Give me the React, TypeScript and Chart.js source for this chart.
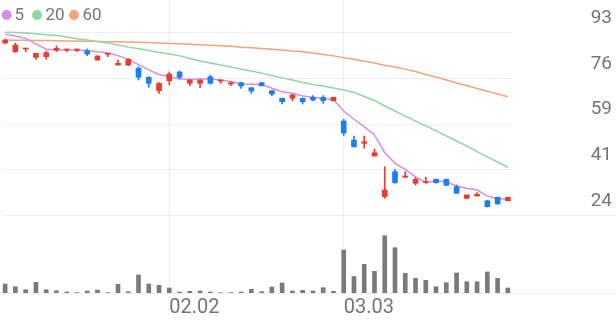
import React, { useEffect, useRef } from "react";
import { Chart, registerables } from "chart.js";

Chart.register(...registerables);

// ---- data ----
const dates = [
  "01.09","01.12","01.13","01.14","01.15","01.16","01.19","01.20","01.21","01.22",
  "01.23","01.26","01.27","01.28","01.29","01.30","02.02","02.03","02.04","02.05",
  "02.06","02.09","02.10","02.11","02.12","02.13","02.19","02.20","02.23","02.24",
  "02.25","02.26","02.27","03.03","03.04","03.05","03.06","03.09","03.10","03.11",
  "03.12","03.13","03.16","03.17","03.18","03.19","03.20","03.23","03.24","03.25",
];

const openP = [
  88.85, 85.57, 86.59, 83.46, 83.70, 86.20, 86.20, 86.20, 85.95, 82.44,
  84.59, 80.56, 80.56, 79.31, 75.92, 70.87, 74.64, 77.92, 73.66, 73.66,
  76.15, 74.52, 73.39, 73.88, 72.00, 73.88, 70.87, 68.00, 68.00, 68.00,
  68.38, 68.38, 67.10, 59.44, 52.28, 51.03, 46.25, 30.90, 40.33, 38.22,
  35.95, 36.18, 37.46, 37.46, 34.67, 30.30, 31.17, 29.39, 30.67, 29.39,
];
const highP = [
  90.36, 88.85, 86.86, 85.10, 85.84, 87.72, 86.59, 86.59, 86.59, 84.10,
  84.97, 82.44, 83.00, 79.92, 76.20, 73.90, 77.92, 78.30, 75.00, 75.00,
  76.79, 74.90, 74.26, 74.00, 72.10, 74.00, 71.00, 68.10, 69.60, 68.10,
  69.00, 69.00, 68.40, 60.08, 53.79, 53.79, 48.88, 42.21, 41.23, 40.33,
  38.22, 38.22, 37.60, 37.60, 35.31, 31.60, 32.41, 29.50, 30.80, 30.80,
];
const lowP = [
  88.50, 85.30, 85.57, 82.70, 82.80, 85.57, 85.57, 85.57, 84.06, 82.30,
  83.69, 80.50, 80.30, 74.90, 72.15, 69.89, 73.02, 75.28, 72.75, 72.00,
  73.28, 73.66, 72.75, 71.77, 69.89, 72.60, 68.87, 65.85, 67.10, 65.85,
  67.10, 66.10, 67.00, 53.97, 49.60, 49.15, 46.20, 30.30, 35.95, 38.20,
  35.31, 35.95, 36.00, 35.00, 32.18, 30.20, 31.10, 27.00, 28.00, 29.30,
];
const closeP = [
  89.98, 88.10, 86.86, 84.97, 85.20, 86.86, 86.59, 86.59, 84.70, 83.95,
  84.97, 81.20, 82.71, 75.92, 73.66, 73.66, 77.17, 75.92, 74.90, 74.90,
  73.66, 74.90, 73.88, 72.64, 70.75, 72.75, 69.62, 66.72, 69.25, 66.72,
  67.36, 67.10, 68.38, 54.92, 49.75, 51.64, 47.49, 33.42, 36.18, 38.71,
  37.46, 36.55, 36.18, 35.20, 32.18, 31.54, 31.80, 27.13, 28.15, 30.67,
];

const ma5 = [
  92.2, 91.5, 90.6, 88.5, 86.5, 86.2, 86.2, 86.1, 86.0, 85.6,
  85.2, 84.1, 82.7, 80.7, 78.7, 77.0, 76.1, 75.3, 75.2, 75.3,
  75.3, 74.9, 74.3, 73.4, 73.3, 73.2, 71.8, 70.5, 69.9, 68.9,
  68.4, 67.9, 67.5, 63.2, 60.1, 57.3, 54.2, 47.5, 43.5, 41.2,
  38.4, 36.3, 36.8, 36.6, 34.9, 34.1, 33.4, 31.2, 30.0, 30.0,
];
const ma20 = [
  92.9, 92.8, 92.6, 92.3, 92.0, 91.7, 91.1, 90.5, 90.0, 89.4,
  88.9, 88.1, 87.3, 86.7, 86.0, 85.3, 84.7, 84.0, 83.0, 82.1,
  81.3, 80.6, 79.8, 79.0, 78.3, 77.5, 76.6, 75.7, 74.9, 74.0,
  73.2, 72.6, 71.9, 71.1, 70.2, 68.7, 67.2, 65.1, 63.2, 61.3,
  59.4, 57.6, 55.7, 53.8, 51.9, 50.0, 47.9, 45.9, 44.0, 42.0,
];
const ma60 = [
  90.0, 89.9, 89.9, 89.8, 89.8, 89.7, 89.6, 89.6, 89.5, 89.4,
  89.3, 89.3, 89.2, 89.1, 89.0, 88.9, 88.7, 88.6, 88.4, 88.2,
  88.0, 87.8, 87.6, 87.3, 87.1, 86.8, 86.5, 86.2, 85.8, 85.6,
  85.1, 84.5, 84.0, 83.3, 82.7, 82.0, 81.3, 80.5, 79.8, 79.0,
  78.1, 77.0, 76.0, 74.9, 73.8, 72.8, 71.7, 70.7, 69.6, 68.6,
];

// volume in thousands of shares
const volumeK = [
  90, 63, 33, 107, 33, 23, 10, 5, 20, 30,
  4, 87, 13, 180, 90, 77, 50, 10, 17, 20,
  10, 4, 4, 10, 37, 13, 60, 100, 20, 27,
  20, 53, 17, 430, 165, 287, 217, 573, 453, 197,
  147, 127, 63, 103, 200, 113, 113, 210, 147, 50,
];

const priceTicks = [24, 41.25, 58.5, 75.75, 93];
const priceTickLabels = ["24", "41", "59", "76", "93"];

const maNames = ["5", "20", "60"];

// ---- styles ----
const UP = "#ea3b2c";
const DOWN = "#1d7ef2";
const MA_COLORS = ["#d78de8", "#8fd89e", "#f8a27b"];
const VOL_COLOR = "#7a7a7a";
const GRID = "#eeeeee";
const TEXT = "#757575";

const candleColor = (i: number) => (closeP[i] >= openP[i] ? UP : DOWN);

export default function App() {
  const ref = useRef<HTMLCanvasElement | null>(null);

  useEffect(() => {
    if (!ref.current) return;
    Chart.defaults.font.family = "Roboto";

    const hGrid = {
      id: "hGrid",
      beforeDatasetsDraw(chart: any) {
        const { ctx, chartArea, scales } = chart;
        ctx.save();
        ctx.strokeStyle = GRID;
        ctx.lineWidth = 1;
        priceTicks.forEach((v, i) => {
          const py = Math.round(scales.y.getPixelForValue(v)) + 0.5;
          ctx.beginPath();
          ctx.moveTo(chartArea.left + 3, py);
          ctx.lineTo(i === 0 ? chart.width : chartArea.right - 2, py);
          ctx.stroke();
        });
        const by = Math.round(scales.yv.getPixelForValue(0)) + 0.5;
        ctx.beginPath();
        ctx.moveTo(chartArea.left + 3, by);
        ctx.lineTo(chart.width, by);
        ctx.stroke();
        ctx.restore();
      },
    };

    const maLegend = {
      id: "maLegend",
      afterDraw(chart: any) {
        const { ctx } = chart;
        const pos = [
          { dot: 6.7, text: 14.5 },
          { dot: 37, text: 45.5 },
          { dot: 74, text: 82.5 },
        ];
        ctx.save();
        ctx.font = "17px Roboto";
        ctx.textBaseline = "middle";
        ctx.textAlign = "left";
        maNames.forEach((n, i) => {
          ctx.fillStyle = MA_COLORS[i];
          ctx.beginPath();
          ctx.arc(pos[i].dot, 15, 5, 0, Math.PI * 2);
          ctx.fill();
          ctx.fillStyle = TEXT;
          ctx.fillText(n, pos[i].text, 16);
        });
        ctx.restore();
      },
    };

    const maSets = [ma5, ma20, ma60].map((d, i) => ({
      type: "line" as const,
      label: "MA" + maNames[i],
      data: d,
      borderColor: MA_COLORS[i],
      borderWidth: 1.5,
      pointRadius: 0,
      tension: 0,
      yAxisID: "y",
      order: 3,
    }));

    const chart = new Chart(ref.current, {
      type: "bar",
      data: {
        labels: dates,
        datasets: [
          ...maSets,
          {
            type: "bar",
            label: "wick",
            data: lowP.map((l, i) => [l, highP[i]]),
            backgroundColor: dates.map((_, i) => candleColor(i)),
            barThickness: 1,
            grouped: false,
            yAxisID: "y",
            order: 2,
          } as any,
          {
            type: "bar",
            label: "body",
            data: openP.map((o, i) => [o, closeP[i]]),
            backgroundColor: dates.map((_, i) => candleColor(i)),
            barThickness: 5,
            minBarLength: 1,
            grouped: false,
            yAxisID: "y",
            order: 1,
          } as any,
          {
            type: "bar",
            label: "volume",
            data: volumeK,
            backgroundColor: VOL_COLOR,
            barThickness: 4,
            grouped: false,
            yAxisID: "yv",
            order: 4,
          } as any,
        ],
      },
      options: {
        animation: false,
        responsive: false,
        layout: { padding: { left: 0, right: 4, top: 0, bottom: 0 } },
        plugins: { legend: { display: false }, tooltip: { enabled: false } },
        scales: {
          x: {
            type: "category",
            offset: true,
            grid: { offset: false, color: GRID, drawTicks: false },
            border: { display: false },
            ticks: {
              color: TEXT,
              font: { size: 20 },
              align: "start",
              padding: 3,
              maxRotation: 0,
              autoSkip: false,
            },
            afterBuildTicks: (s: any) => {
              s.ticks = s.ticks.filter((t: any) => {
                const i = t.value;
                return i > 0 && dates[i].slice(0, 2) !== dates[i - 1].slice(0, 2);
              });
            },
            afterFit: (s: any) => {
              s.height = 28;
              s.paddingLeft = 0;
              s.paddingRight = 0;
            },
          },
          y: {
            type: "linear",
            position: "right",
            min: -5.41,
            max: 105.07,
            grid: { display: false },
            border: { display: false },
            ticks: {
              color: TEXT,
              font: { size: 19 },
              crossAlign: "far",
              labelOffset: -14,
              padding: 0,
              callback: (v: any) => {
                const k = priceTicks.indexOf(Number(v));
                return k >= 0 ? priceTickLabels[k] : "";
              },
            },
            afterBuildTicks: (s: any) => {
              s.ticks = priceTicks.map((v) => ({ value: v }));
            },
            afterFit: (s: any) => {
              s.width = 99;
              s.paddingTop = 0;
              s.paddingBottom = 0;
            },
          },
          yv: {
            type: "linear",
            display: false,
            min: 0,
            max: 2930,
          },
        },
      } as any,
      plugins: [hGrid, maLegend],
    });

    return () => chart.destroy();
  }, []);

  return (
    <div style={{ position: "absolute", left: 0, top: 0, width: 616, height: 321 }}>
      <canvas ref={ref} width={616} height={321} style={{ display: "block" }} />
    </div>
  );
}
